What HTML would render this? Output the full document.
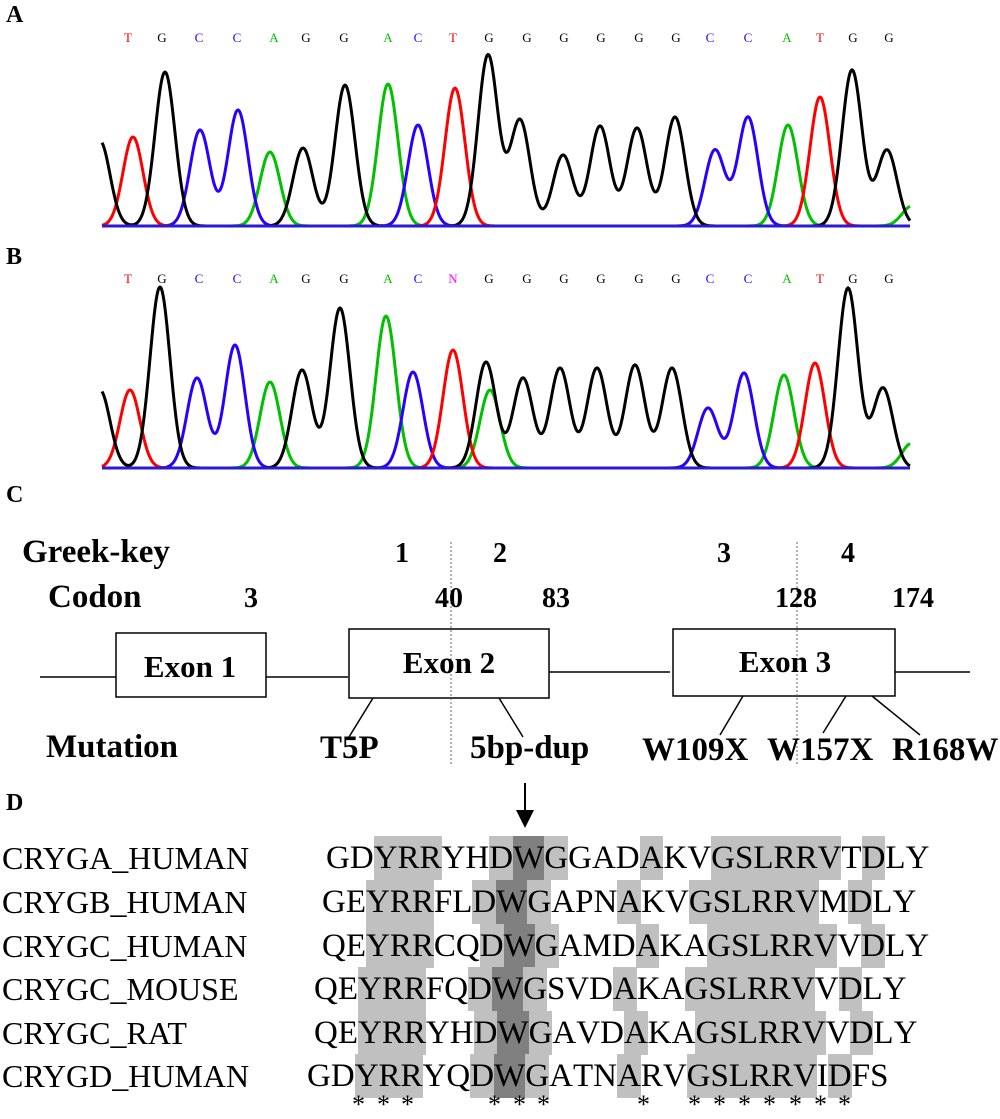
<!DOCTYPE html>
<html><head><meta charset="utf-8">
<style>
html,body{margin:0;padding:0;background:#fff;}
body{width:1000px;height:1116px;position:relative;overflow:hidden;font-family:"Liberation Serif",serif;}
.t{position:absolute;white-space:nowrap;}
.b{font-weight:bold;}
.row{position:absolute;white-space:nowrap;font-size:33px;line-height:44px;height:44px;}
.row span{display:inline-block;}
.s{background:#c0c0c0;}
.d{background:#808080;}
</style></head>
<body>
<div class="t b" style="left:6px;top:2px;font-size:24px;">A</div>
<div class="t b" style="left:6px;top:244px;font-size:24px;">B</div>
<div class="t b" style="left:6px;top:482px;font-size:24px;">C</div>
<div class="t b" style="left:6px;top:790px;font-size:24px;">D</div>

<svg id="chrom" width="1000" height="480" style="position:absolute;left:0;top:0"></svg>

<!-- Panel C -->
<svg width="1000" height="300" style="position:absolute;left:0;top:520px">
  <g stroke="#000" stroke-width="1.5" fill="none">
    <line x1="40" y1="157" x2="118" y2="157"/>
    <line x1="264" y1="157" x2="348" y2="157"/>
    <line x1="548" y1="152" x2="670" y2="152"/>
    <line x1="892" y1="152" x2="970" y2="152"/>
    <rect x="116" y="113" width="150" height="64" fill="#fff"/>
    <rect x="349" y="109" width="200" height="69" fill="#fff"/>
    <rect x="673" y="109" width="222" height="67" fill="#fff"/>
    <line x1="373" y1="178" x2="349" y2="217"/>
    <line x1="499" y1="178" x2="523" y2="217"/>
    <line x1="743" y1="176" x2="720" y2="215"/>
    <line x1="846" y1="176" x2="823" y2="213"/>
    <line x1="872" y1="176" x2="920" y2="215"/>
  </g>
  <g stroke="#666" stroke-width="1" stroke-dasharray="2,2">
    <line x1="451" y1="22" x2="451" y2="245"/>
    <line x1="797" y1="22" x2="797" y2="245"/>
  </g>
  <g font-family="Liberation Serif,serif" font-weight="bold" text-anchor="middle" font-size="31">
    <text x="190" y="157">Exon 1</text>
    <text x="449" y="153">Exon 2</text>
    <text x="785" y="152">Exon 3</text>
  </g>
  <g font-family="Liberation Serif,serif" font-weight="bold" font-size="33">
    <text x="22" y="42">Greek-key</text>
    <text x="48" y="87">Codon</text>
    <text x="46" y="237">Mutation</text>
    <text x="320" y="238">T5P</text>
    <text x="470" y="238">5bp-dup</text>
    <text x="642" y="240">W109X</text>
    <text x="767" y="240">W157X</text>
    <text x="892" y="240">R168W</text>
  </g>
  <g font-family="Liberation Serif,serif" font-weight="bold" font-size="28" text-anchor="middle">
    <text x="402" y="42">1</text>
    <text x="500" y="42">2</text>
    <text x="724" y="42">3</text>
    <text x="848" y="42">4</text>
    <text x="251" y="87">3</text>
    <text x="449" y="87">40</text>
    <text x="556" y="87">83</text>
    <text x="796" y="87">128</text>
    <text x="913" y="87">174</text>
  </g>
</svg>

<!-- Panel D -->
<svg width="40" height="60" style="position:absolute;left:505px;top:780px">
  <line x1="20" y1="3" x2="20" y2="34" stroke="#000" stroke-width="2"/>
  <polygon points="11,30 29,30 20,48" fill="#000"/>
</svg>
<div id="names"></div>
<div id="seqs"></div>
<div id="stars"></div>

<script>
// ---- Chromatogram data ----
const sigma = 10;
const baseA = 226, baseB = 468;
const xMin = 102, xMax = 910;
const peakPosA   = [100,133,165,200,238,270,303,345,388,418,455,488,520,563,600,637,675,715,748,788,820,852,887,912];
const peakHgtA   = [85, 89,154, 96,116, 74, 78,141,142,101,138,171,106, 71,100, 98,109, 76,109,101,129,156, 76, 20];
const peakChanA  = ['G','T','G','C','C','A','G','G','A','C','T','G','G','G','G','G','G','C','C','A','T','G','G','A'];
const peakPosB   = [100,130,160,197,235,270,302,340,386,413,453,486,490,523,560,597,635,672,708,744,784,815,848,883,912];
const peakHgtB   = [78, 78,181, 90,123, 86, 98,160,152, 96,118,106, 78, 90,100,100,103,100, 60, 95, 93,105,180, 80, 25];
const peakChanB  = ['G','T','G','C','C','A','G','G','A','C','T','G','A','G','G','G','G','G','C','C','A','T','G','G','A'];
const callsA = ['T','G','C','C','A','G','G','A','C','T','G','G','G','G','G','G','C','C','A','T','G','G'];
const callsB = ['T','G','C','C','A','G','G','A','C','N','G','G','G','G','G','G','C','C','A','T','G','G'];
const callPos = [128,162,199,237,274,306,344,388,418,453,489,527,564,601,639,676,710,748,787,820,853,889];
const colors = {T:'#ff0000',G:'#000000',C:'#2a00ff',A:'#00c000',N:'#ff00ff'};

const NS='http://www.w3.org/2000/svg';
const svg=document.getElementById('chrom');
function yScale(base,h){return base-h;}
function drawPanel(pos,hgt,chan,base,calls,callY,tag){
  ['A','C','T','G'].forEach(ch=>{
    let pts=[];
    for(let x=xMin;x<=xMax;x+=1){
      let v=0;
      for(let i=0;i<pos.length;i++){ if(chan[i]===ch){ const d=(x-pos[i])/sigma; v+=hgt[i]*Math.exp(-0.5*d*d);} }
      pts.push(x+','+yScale(base,v).toFixed(1));
    }
    const p=document.createElementNS(NS,'polyline');
    p.setAttribute('points',pts.join(' '));
    p.setAttribute('fill','none');p.setAttribute('stroke',colors[ch]);p.setAttribute('stroke-width','3');
    p.setAttribute('stroke-linejoin','round');
    
    
    svg.appendChild(p);
  });
  const bl=document.createElementNS(NS,'line');
  bl.setAttribute('x1',xMin);bl.setAttribute('x2',xMax);bl.setAttribute('y1',base);bl.setAttribute('y2',base);
  bl.setAttribute('stroke','#2a1ad0');bl.setAttribute('stroke-width','3');
  
  
  svg.appendChild(bl);
  calls.forEach((c,i)=>{
    const t=document.createElementNS(NS,'text');
    t.setAttribute('x',callPos[i]);t.setAttribute('y',callY);
    t.setAttribute('text-anchor','middle');t.setAttribute('font-size','13');
    t.setAttribute('font-family','Liberation Serif,serif');
    t.setAttribute('fill',colors[c]);t.textContent=c;
    
    
    svg.appendChild(t);
  });
}
drawPanel(peakPosA,peakHgtA,peakChanA,baseA,callsA,42,'panel-a');
drawPanel(peakPosB,peakHgtB,peakChanB,baseB,callsB,283,'panel-b');

// ---- Alignment data ----
const seqNames=['CRYGA_HUMAN','CRYGB_HUMAN','CRYGC_HUMAN','CRYGC_MOUSE','CRYGC_RAT','CRYGD_HUMAN'];
const seqs=['GDYRRYHDWGGADAKVGSLRRVTDLY','GEYRRFLDWGAPNAKVGSLRRVMDLY','QEYRRCQDWGAMDAKAGSLRRVVDLY','QEYRRFQDWGSVDAKAGSLRRVVDLY','QEYRRYHDWGAVDAKAGSLRRVVDLY','GDYRRYQDWGATNARVGSLRRVIDFS'];
const seqStart=[326,322,322,314,314,307];
const shaded=[2,3,4,7,9,13,16,17,18,19,20,21,23];
const dark=[8];
const starX=[359,384,408,495,520,544,644,695,720,745,770,796,821,845];
const rowTop=[836,880,924,967,1011,1054];

const namesDiv=document.getElementById('names');
const seqDiv=document.getElementById('seqs');
seqNames.forEach((n,r)=>{
  const d=document.createElement('div');
  d.className='row';d.style.left='2px';d.style.top=rowTop[r]+'px';d.style.fontSize='32px';
  d.textContent=n;
  
  
  namesDiv.appendChild(d);
  const s=document.createElement('div');
  s.className='row';s.style.left=seqStart[r]+'px';s.style.top=rowTop[r]+'px';
  
  
  seqs[r].split('').forEach((c,i)=>{
    const sp=document.createElement('span');
    sp.textContent=c;
    if(dark.includes(i)) sp.className='d'; else if(shaded.includes(i)) sp.className='s';
    s.appendChild(sp);
  });
  seqDiv.appendChild(s);
});
const starsDiv=document.getElementById('stars');
starX.forEach(x=>{
  const st=document.createElement('div');
  st.className='t';st.style.left=(x-7)+'px';st.style.top='1092px';st.style.fontSize='26px';st.style.lineHeight='26px';
  st.textContent='*';
  
  
  starsDiv.appendChild(st);
});
</script>
</body></html>
